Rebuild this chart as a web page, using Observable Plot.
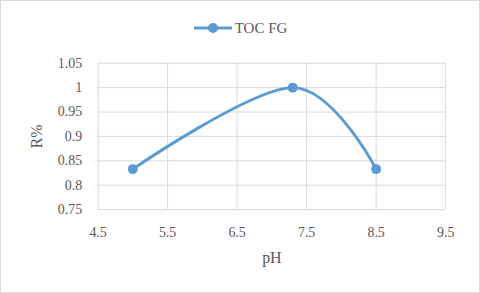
<!DOCTYPE html>
<html>
<head>
<meta charset="utf-8">
<script src="https://cdn.jsdelivr.net/npm/d3@7"></script>
<script src="https://cdn.jsdelivr.net/npm/@observablehq/plot@0.6"></script>
<style>
  html, body { margin: 0; padding: 0; background: #fff; }
  #chart { position: relative; width: 480px; height: 293px; box-sizing: border-box; border: 1px solid #d9d9d9; background: #fff; overflow: hidden; }
  #chart svg.plot, #chart > svg { position: absolute; left: -1px; top: -1px; }
  #legend { position: absolute; top: 16px; left: 0; width: 100%; height: 18px; line-height: 18px; text-align: center; font-family: "Liberation Serif", "Times New Roman", "DejaVu Serif", serif; font-size: 15px; color: #595959; }
  #legend span, #legend svg { vertical-align: middle; }
</style>
</head>
<body>
<div id="chart"><div id="legend"></div></div>
<script>
const seriesName = "TOC FG";
const pH = [5, 7.3, 8.5];
const R = [0.833, 1.0, 0.833];
const xTicks = [4.5, 5.5, 6.5, 7.5, 8.5, 9.5];
const yTicks = [0.75, 0.8, 0.85, 0.9, 0.95, 1, 1.05];
const xTitle = "pH";
const yTitle = "R%";
const color = "#5b9bd5";
const serif = "'Liberation Serif', 'Times New Roman', 'DejaVu Serif', serif";

const data = pH.map((x, i) => ({x, y: R[i]}));

const plot = Plot.plot({
  width: 480,
  height: 293,
  marginTop: 63,
  marginBottom: 83,
  marginLeft: 98,
  marginRight: 33,
  style: {fontFamily: serif, fontSize: "14px", color: "#595959", background: "transparent"},
  x: {domain: [4.5, 9.5]},
  y: {domain: [0.75, 1.05]},
  marks: [
    Plot.gridX(xTicks, {stroke: "#d9d9d9", strokeOpacity: 1, strokeWidth: 1}),
    Plot.gridY(yTicks, {stroke: "#d9d9d9", strokeOpacity: 1, strokeWidth: 1}),
    Plot.axisX(xTicks, {tickSize: 0, tickPadding: 18, tickFormat: d => `${d}`, label: xTitle, labelAnchor: "center", labelOffset: 54, labelArrow: "none", fontSize: 14}),
    Plot.axisY(yTicks, {tickSize: 0, tickPadding: 16, tickFormat: d => `${d}`, label: yTitle, labelAnchor: "center", labelOffset: 68, labelArrow: "none", fontSize: 14}),
    Plot.line(data, {x: "x", y: "y", stroke: color, strokeWidth: 3, curve: "cardinal"}),
    Plot.dot(data, {x: "x", y: "y", fill: color, r: 5})
  ]
});
document.getElementById("chart").appendChild(plot);

document.getElementById("legend").innerHTML =
  `<svg width="40" height="12"><line x1="1" y1="6" x2="39" y2="6" stroke="${color}" stroke-width="3"/><circle cx="20" cy="6" r="5" fill="${color}"/></svg><span style="margin-left:2px">${seriesName}</span>`;

plot.querySelectorAll("text").forEach(t => {
  t.style.fontFamily = serif;
  if (t.textContent === xTitle || t.textContent === yTitle) t.setAttribute("font-size", "16");
});
</script>
</body>
</html>
